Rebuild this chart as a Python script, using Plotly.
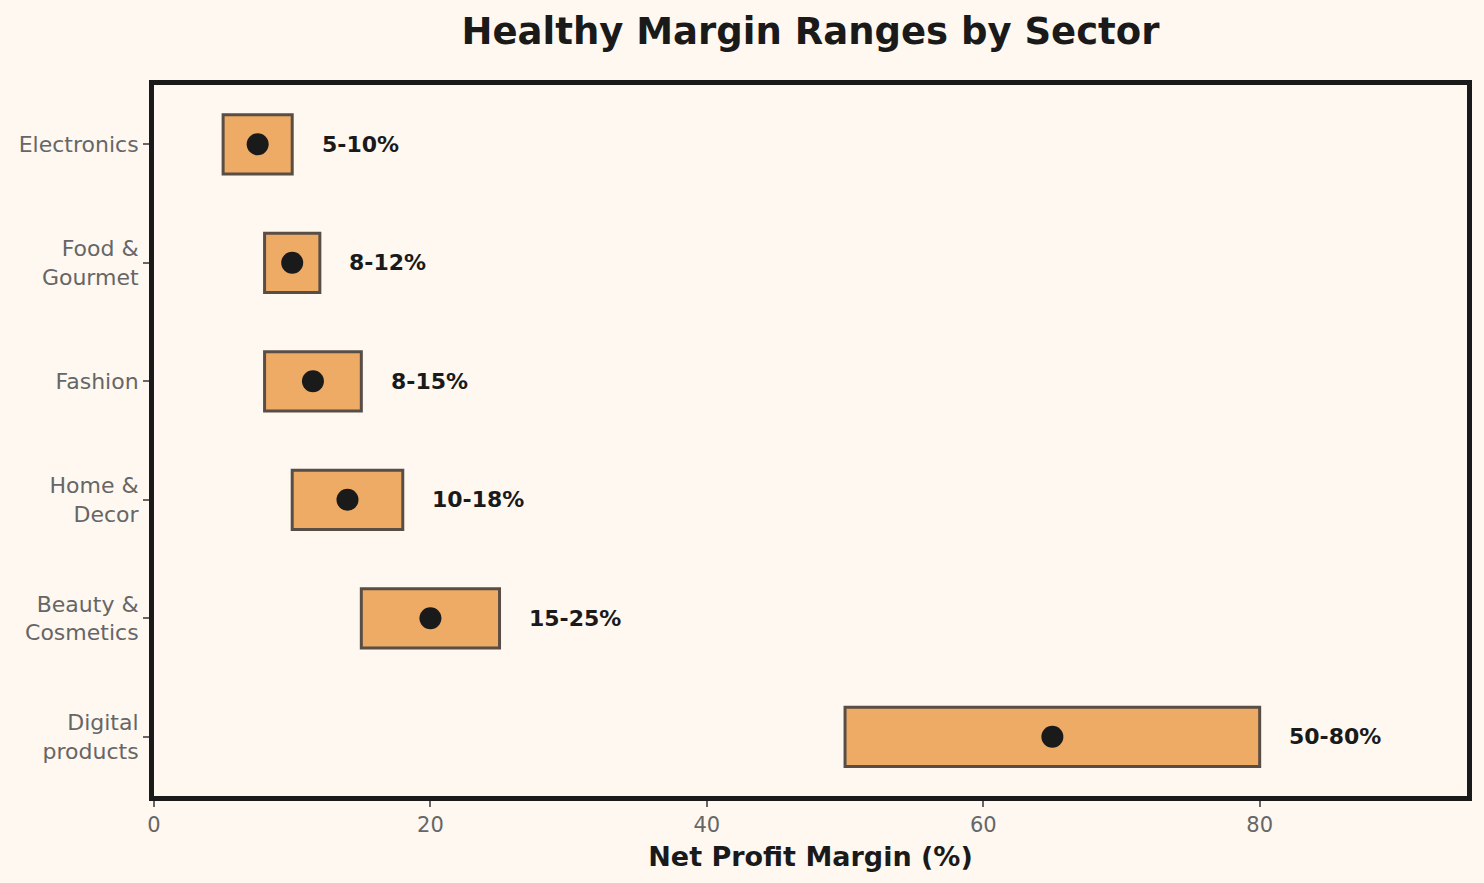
import plotly.graph_objects as go

sectors = ["Electronics", "Food &<br>Gourmet", "Fashion", "Home &<br>Decor",
           "Beauty &<br>Cosmetics", "Digital<br>products"]
low = [5, 8, 8, 10, 15, 50]
high = [10, 12, 15, 18, 25, 80]
labels = ["5-10%", "8-12%", "8-15%", "10-18%", "15-25%", "50-80%"]
x_ticks = [0, 20, 40, 60, 80]

mid = [(a + b) / 2 for a, b in zip(low, high)]
span = [b - a for a, b in zip(low, high)]

BG = "#FEF8F1"
DARK = "#1a1a1a"
FONT = "DejaVu Sans"

fig = go.Figure()
fig.add_trace(go.Bar(
    y=sectors, x=span, base=low, orientation="h", width=0.5,
    marker=dict(color="#EDAB66", line=dict(color="#594e45", width=3)),
    hoverinfo="skip", showlegend=False,
))
fig.add_trace(go.Scatter(
    y=sectors, x=mid, mode="markers",
    marker=dict(color=DARK, size=22, line=dict(width=0)),
    hoverinfo="skip", showlegend=False,
))
for s, h, t in zip(sectors, high, labels):
    fig.add_annotation(x=h + 2, y=s, text=f"<b>{t}</b>", showarrow=False,
                       xanchor="left", yanchor="middle",
                       font=dict(family=FONT, size=22, color=DARK))

fig.update_layout(
    width=1484, height=883,
    paper_bgcolor=BG, plot_bgcolor=BG,
    margin=dict(l=154, r=15, t=85, b=87),
    title=dict(text="<b>Healthy Margin Ranges by Sector</b>", x=0.5, xref="paper",
               y=0.965, yref="container", xanchor="center", yanchor="middle",
               font=dict(family=FONT, size=37, color=DARK)),
    xaxis=dict(range=[0, 95], tickvals=x_ticks, showgrid=False, zeroline=False,
               showline=True, mirror=True, linewidth=5, linecolor=DARK,
               ticks="outside", ticklen=6, tickwidth=1.5, tickcolor="#666666",
               tickfont=dict(family=FONT, size=21, color="#666666"),
               title=dict(text="<b>Net Profit Margin (%)</b>", standoff=12,
                          font=dict(family=FONT, size=27, color=DARK))),
    yaxis=dict(range=[5.5, -0.5], categoryorder="array", categoryarray=sectors,
               showgrid=False, zeroline=False,
               showline=True, mirror=True, linewidth=5, linecolor=DARK,
               ticks="outside", ticklen=6, tickwidth=1.5, tickcolor="#666666",
               tickfont=dict(family=FONT, size=22, color="#666666")),
    bargap=0.5,
)

fig.write_html("out.html", config={"displayModeBar": False},
               post_script="document.body.style.margin='0';document.body.style.overflow='hidden';")
